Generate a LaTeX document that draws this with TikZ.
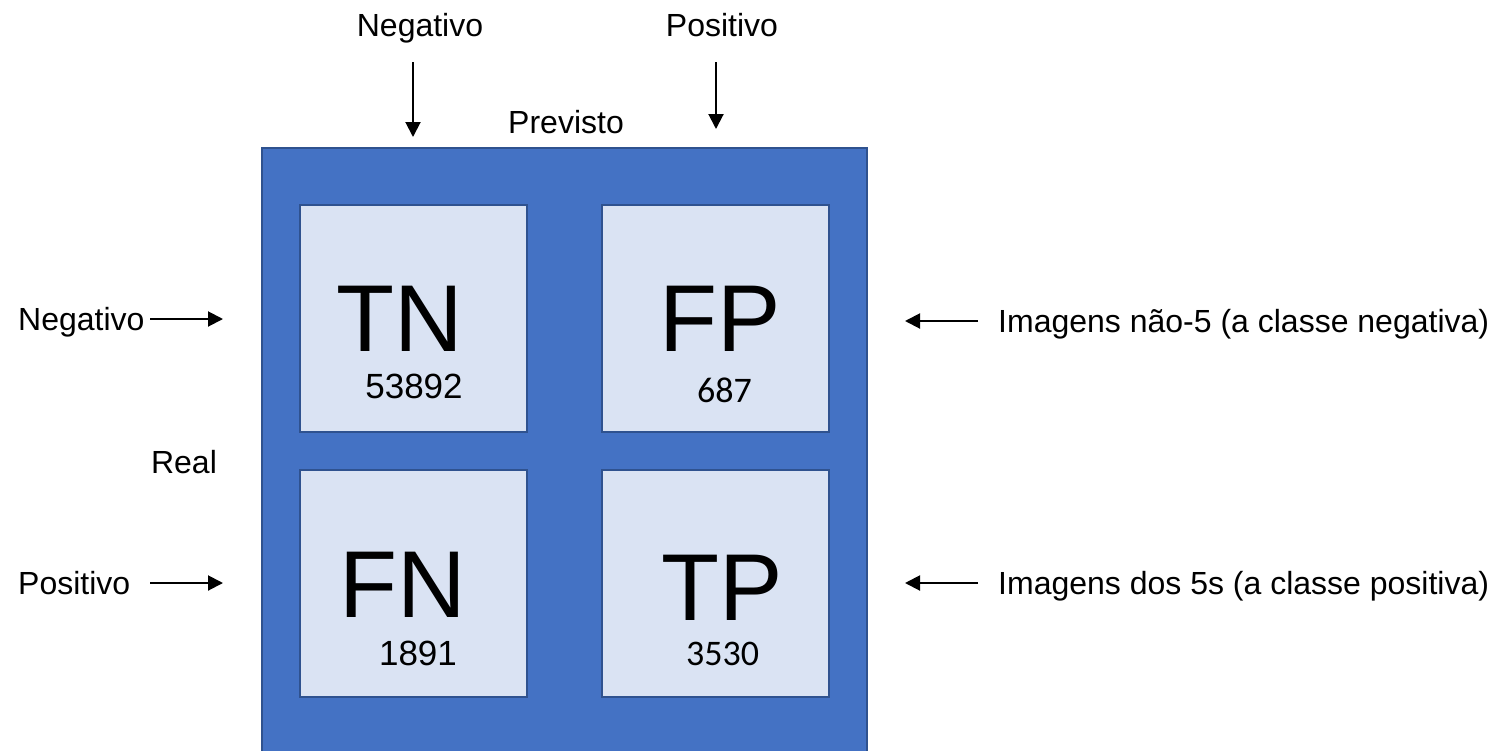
\documentclass[tikz,border=0pt]{standalone}
\usepackage{fontspec}
\setmainfont{Liberation Sans}
\newfontfamily\numfont{Carlito}
\usetikzlibrary{arrows.meta}
\definecolor{outerblue}{HTML}{4472C4}
\definecolor{edgeblue}{HTML}{2F528F}
\definecolor{innerblue}{HTML}{DAE3F3}
\tikzset{
  cell/.style={draw=edgeblue, line width=2pt, fill=innerblue, minimum width=227pt, minimum height=227pt, inner sep=0pt},
  big/.style={font=\fontsize{95}{95}\selectfont, inner sep=0pt, anchor=base},
  numA/.style={font=\fontsize{35}{35}\selectfont, inner sep=0pt, anchor=base},
  numC/.style={font=\numfont\fontsize{36}{36}\selectfont, inner sep=0pt, anchor=base},
  lbl/.style={font=\fontsize{32}{32}\selectfont, inner sep=0pt, anchor=base},
  arr/.style={line width=2pt, -{Triangle[length=15pt,width=15pt]}},
}
\begin{document}
\begin{tikzpicture}[x=1pt,y=-1pt]
\useasboundingbox (0,0) rectangle (1498,750);
% outer board
\fill[outerblue] (262,148) rectangle (867,752);
\draw[edgeblue, line width=2pt] (262,752) -- (262,148) -- (867,148) -- (867,752);
% cells
\node[cell] (tn) at (413.5,318.5) {};
\node[cell] (fp) at (715,318.5) {};
\node[cell] (fn) at (413.5,583.5) {};
\node[cell] (tp) at (715,583.5) {};
% big labels
\node[big] (tnt) at (400,351) {TN};
\node[big] (fpt) at (720,351) {FP};
\node[big] (fnt) at (403,617) {FN};
\node[big] (tpt) at (722,620) {TP};
% numbers
\node[numA] (tnn) at (414,398) {53892};
\node[numC] (fpn) at (724.5,402) {687};
\node[numA] (fnn) at (418,665) {1891};
\node[numC] (tpn) at (722.5,665) {3530};
% top labels
\node[lbl] (topneg) at (420,36) {Negativo};
\node[lbl] (toppos) at (722,36) {Positivo};
\node[lbl] (prev) at (566,133) {Previsto};
\coordinate (tnA) at (413,62);
\coordinate (tnB) at (413,137);
\coordinate (tpA) at (716,62);
\coordinate (tpB) at (716,129);
\draw[arr] (tnA) -- (tnB);
\draw[arr] (tpA) -- (tpB);
% left labels
\node[lbl, anchor=base west] (leftneg) at (18,330) {Negativo};
\node[lbl, anchor=base west] (leftpos) at (18,594) {Positivo};
\node[lbl] (real) at (184,473) {Real};
\coordinate (lnA) at (150,319);
\coordinate (lnB) at (223,319);
\coordinate (lpA) at (150,583);
\coordinate (lpB) at (223,583);
\draw[arr] (lnA) -- (lnB);
\draw[arr] (lpA) -- (lpB);
% right labels
\node[lbl, anchor=base west] (rightneg) at (998,332) {Imagens não-5 (a classe negativa)};
\node[lbl, anchor=base west] (rightpos) at (998,594) {Imagens dos 5s (a classe positiva)};
\coordinate (rnA) at (978,321);
\coordinate (rnB) at (905,321);
\coordinate (rpA) at (978,583);
\coordinate (rpB) at (905,583);
\draw[arr] (rnA) -- (rnB);
\draw[arr] (rpA) -- (rpB);
\end{tikzpicture}
\end{document}
